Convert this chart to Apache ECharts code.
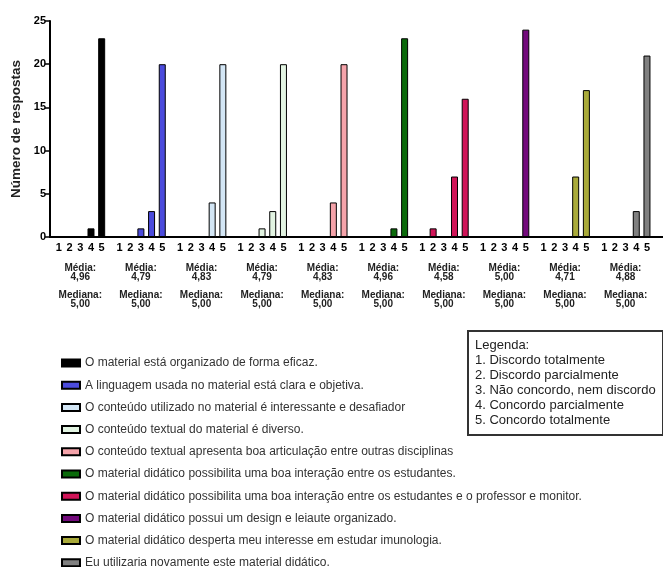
<!DOCTYPE html>
<html>
<head>
<meta charset="utf-8">
<script src="https://cdn.jsdelivr.net/npm/echarts@6/dist/echarts.min.js"></script>
<style>
html,body{margin:0;padding:0;background:#fff;}
#chart{width:663px;height:567px;}
</style>
</head>
<body>
<div id="chart"></div>
<script>
// ---- data ----
var tickLabels = ['1', '2', '3', '4', '5'];
var questions = [
  'O material está organizado de forma eficaz.',
  'A linguagem usada no material está clara e objetiva.',
  'O conteúdo utilizado no material é interessante e desafiador',
  'O conteúdo textual do material é diverso.',
  'O conteúdo textual apresenta boa articulação entre outras disciplinas',
  'O material didático possibilita uma boa interação entre os estudantes.',
  'O material didático possibilita uma boa interação entre os estudantes e o professor e monitor.',
  'O material didático possui um design e leiaute organizado.',
  'O material didático desperta meu interesse em estudar imunologia.',
  'Eu utilizaria novamente este material didático.'
];
var q1 = [0, 0, 0, 1, 23];
var q2 = [0, 0, 1, 3, 20];
var q3 = [0, 0, 0, 4, 20];
var q4 = [0, 0, 1, 3, 20];
var q5 = [0, 0, 0, 4, 20];
var q6 = [0, 0, 0, 1, 23];
var q7 = [0, 1, 0, 7, 16];
var q8 = [0, 0, 0, 0, 24];
var q9 = [0, 0, 0, 7, 17];
var q10 = [0, 0, 0, 3, 21];
var means = ['4,96', '4,79', '4,83', '4,79', '4,83', '4,96', '4,58', '5,00', '4,71', '4,88'];
var medians = ['5,00', '5,00', '5,00', '5,00', '5,00', '5,00', '5,00', '5,00', '5,00', '5,00'];
var colors = ['#000000', '#4b4bdc', '#d3e6f5', '#e2f4e2', '#f5a3aa', '#0a6a0a', '#d01458', '#730a7c', '#a9aa3a', '#808080'];
var scaleLabels = ['Legenda:', '1. Discordo totalmente', '2. Discordo parcialmente', '3. Não concordo, nem discordo', '4. Concordo parcialmente', '5. Concordo totalmente'];

var groups = [q1, q2, q3, q4, q5, q6, q7, q8, q9, q10];

// ---- build slots: 2 leading gaps, then per group bars at every 3rd slot, 17 slots per group ----
var LEAD = 2, STEP = 3, PERIOD = 17;
var cats = [];
var slotInfo = [];
for (var i = 0; i < LEAD; i++) { cats.push('gap-l' + i); slotInfo.push(null); }
for (var g = 0; g < groups.length; g++) {
  for (var s = 0; s < PERIOD; s++) {
    if (s % STEP === 0 && s / STEP < tickLabels.length) {
      var k = s / STEP;
      cats.push('g' + g + '-' + k);
      slotInfo.push({ g: g, k: k });
    } else {
      cats.push('gap-' + g + '-' + s);
      slotInfo.push(null);
    }
  }
}

var series = groups.map(function (vals, g) {
  var data = cats.map(function (c, idx) {
    var info = slotInfo[idx];
    if (info && info.g === g) return vals[info.k];
    return '-';
  });
  return {
    name: questions[g],
    type: 'bar',
    data: data,
    barWidth: 7,
    barGap: '-100%',
    itemStyle: { color: colors[g], borderColor: '#000', borderWidth: 1 },
    emphasis: { disabled: true }
  };
});

var FONT = '"Liberation Sans", Arial, sans-serif';

var chart = echarts.init(document.getElementById('chart'), null, { renderer: 'canvas' });
chart.setOption({
  animation: false,
  backgroundColor: '#fff',
  textStyle: { fontFamily: FONT },
  grid: { left: 50, top: 21, width: 627, height: 216, containLabel: false },
  xAxis: {
    type: 'category',
    data: cats,
    boundaryGap: true,
    axisLine: { lineStyle: { color: '#000', width: 2 } },
    axisTick: {
      alignWithLabel: true,
      length: 6,
      lineStyle: { color: '#000', width: 1.5 },
      interval: function (index) { return !!slotInfo[index]; }
    },
    axisLabel: {
      interval: function (index) { return !!slotInfo[index]; },
      margin: 5,
      fontFamily: FONT,
      color: '#000',
      formatter: function (value, index) {
        var info = slotInfo[index];
        if (!info) return '';
        var t = '{t|' + tickLabels[info.k] + '}';
        if (info.k === 2) {
          return t + '\n{sp| }\n{m|Média:}\n{m|' + means[info.g] + '}\n{sp2| }\n{m|Mediana:}\n{m|' + medians[info.g] + '}';
        }
        return t;
      },
      rich: {
        t: { fontSize: 11, fontWeight: 'bold', lineHeight: 12, color: '#000', fontFamily: FONT },
        sp: { fontSize: 4, lineHeight: 9.5 },
        sp2: { fontSize: 4, lineHeight: 9 },
        m: { fontSize: 10, fontWeight: 'bold', lineHeight: 9, color: '#222', fontFamily: FONT }
      }
    },
    splitLine: { show: false }
  },
  yAxis: {
    type: 'value',
    min: 0,
    max: 25,
    interval: 5,
    name: 'Número de respostas',
    nameLocation: 'middle',
    nameGap: 21,
    nameTextStyle: { fontSize: 13.5, fontWeight: 'bold', color: '#222', fontFamily: FONT },
    axisLine: { show: true, lineStyle: { color: '#000', width: 2 } },
    axisTick: { show: true, length: 5, lineStyle: { color: '#000', width: 1.5 } },
    axisLabel: { fontSize: 11, fontWeight: 'bold', color: '#000', margin: 4, fontFamily: FONT },
    splitLine: { show: false }
  },
  legend: {
    orient: 'vertical',
    left: 56,
    top: 352,
    height: 260,
    itemWidth: 18,
    itemHeight: 7,
    itemGap: 10.2,
    icon: 'rect',
    selectedMode: false,
    textStyle: { fontSize: 12, color: '#333', lineHeight: 12, fontFamily: FONT },
    data: questions
  },
  graphic: [
    {
      type: 'rect',
      left: 467,
      top: 330,
      shape: { width: 195, height: 104 },
      style: { fill: '#fff', stroke: '#333', lineWidth: 2 }
    },
    {
      type: 'text',
      left: 475,
      top: 338,
      style: {
        text: scaleLabels.join('\n'),
        fontSize: 13,
        lineHeight: 15,
        fill: '#222',
        fontFamily: FONT
      }
    }
  ],
  series: series
});
</script>
</body>
</html>
